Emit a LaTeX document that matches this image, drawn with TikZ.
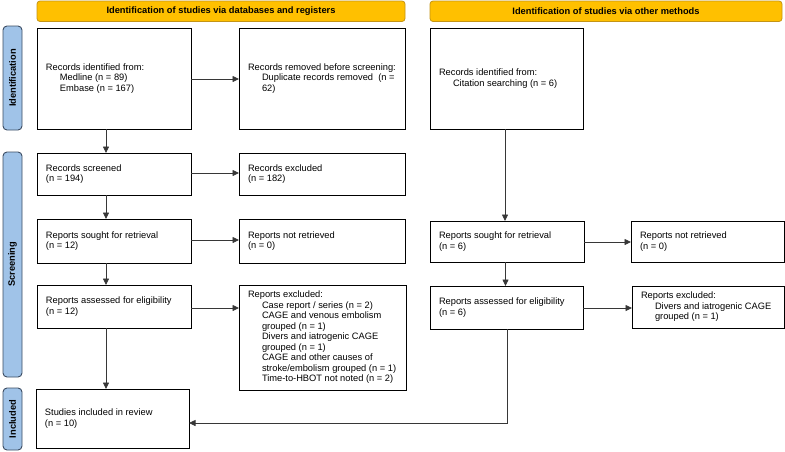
\documentclass[tikz,border=0pt]{standalone}
\usepackage{fontspec}
\setmainfont{Liberation Sans}
\usetikzlibrary{arrows.meta,calc}
\definecolor{hdrfill}{RGB}{255,192,0}
\definecolor{hdrdraw}{RGB}{196,148,20}
\definecolor{sidefill}{RGB}{160,195,232}
\definecolor{sidedraw}{RGB}{60,76,98}
\definecolor{linegray}{RGB}{55,55,55}
\newcommand\subind{\hspace*{14pt}}
\begin{document}
\begin{tikzpicture}[x=1pt,y=-1pt,
  txt/.style={font=\fontsize{9.3}{10.5}\selectfont},
  box/.style={txt,draw=black,line width=0.9pt,fill=white,rectangle,anchor=north west,
    inner xsep=0pt,inner ysep=2pt,align=flush left,outer sep=0pt,
    execute at begin node={\leftskip=8.5pt\relax\hyphenpenalty=10000\relax}},
  hdr/.style={draw=hdrdraw,fill=hdrfill,line width=0.8pt,rounded corners=3pt,
    font=\fontsize{9.3}{10.5}\selectfont\bfseries,anchor=north west,outer sep=0pt,inner sep=0pt},
  side/.style={draw=sidedraw,fill=sidefill,line width=0.9pt,rounded corners=4pt,rotate=90,
    font=\fontsize{9.3}{10.5}\selectfont\bfseries,outer sep=0pt,inner sep=0pt},
  arr/.style={draw=linegray,line width=0.8pt,-{Triangle[length=6.5pt,width=6pt]}},
  ln/.style={draw=linegray,line width=0.8pt}]
\useasboundingbox (0,0) rectangle (785,451);

% headers
\node[hdr,minimum width=368pt,minimum height=20.5pt] (h1) at (37,1) {Identification of studies via databases and registers};
\node[hdr,minimum width=352pt,minimum height=20.5pt] (h2) at (430,1) {Identification of studies via other methods};

% side bars
\node[side,minimum width=104pt,minimum height=19pt] (s1) at (12.5,78) {Identification};
\node[side,minimum width=225pt,minimum height=19pt] (s2) at (12.5,264.5) {Screening};
\node[side,minimum width=62pt,minimum height=19pt] (s3) at (12.5,419) {Included};

% boxes
\node[box,minimum width=154pt,minimum height=101pt,text width=153pt] (idl) at (37,28)
  {Records identified from:\\ \subind Medline (n = 89)\\ \subind Embase (n = 167)};
\node[box,minimum width=166pt,minimum height=101pt,text width=165pt] (rem) at (239,28)
  {Records removed before screening:\\ \subind Duplicate records removed\ \ (n =\\ \subind 62)};
\node[box,minimum width=153pt,minimum height=101pt,text width=152pt] (idr) at (430,28)
  {Records identified from:\\ \subind Citation searching (n = 6)};

\node[box,minimum width=154pt,minimum height=42pt,text width=153pt] (scr) at (37,153)
  {Records screened\\ (n = 194)};
\node[box,minimum width=166pt,minimum height=42pt,text width=165pt] (exc) at (239,153)
  {Records excluded\\ (n = 182)};

\node[box,minimum width=154pt,minimum height=44pt,text width=153pt] (sgl) at (37,219)
  {Reports sought for retrieval\\ (n = 12)};
\node[box,minimum width=166pt,minimum height=44pt,text width=165pt] (nrl) at (239,219)
  {Reports not retrieved\\ (n = 0)};

\node[box,minimum width=154pt,minimum height=43pt,text width=153pt] (asl) at (37,285)
  {Reports assessed for eligibility\\ (n = 12)};
\node[box,minimum width=167pt,minimum height=105pt,text width=166pt] (rxl) at (239,285)
  {Reports excluded:\\
   \subind Case report / series (n = 2)\\
   \subind CAGE and venous embolism\\
   \subind grouped (n = 1)\\
   \subind Divers and iatrogenic CAGE\\
   \subind grouped (n = 1)\\
   \subind CAGE and other causes of\\
   \subind stroke/embolism grouped (n = 1)\\
   \subind Time-to-HBOT not noted (n = 2)};

\node[box,minimum width=153pt,minimum height=59pt,text width=152pt] (inc) at (36,389)
  {Studies included in review\\ (n = 10)};

\node[box,minimum width=154pt,minimum height=41pt,text width=153pt] (sgr) at (430,221)
  {Reports sought for retrieval\\ (n = 6)};
\node[box,minimum width=153pt,minimum height=41pt,text width=152pt] (nrr) at (631,221)
  {Reports not retrieved\\ (n = 0)};

\node[box,minimum width=153pt,minimum height=43pt,text width=152pt] (asr) at (430,286)
  {Reports assessed for eligibility\\ (n = 6)};
\node[box,minimum width=152pt,minimum height=42pt,text width=151pt] (rxr) at (632,286)
  {Reports excluded:\\ \subind Divers and iatrogenic CAGE\\ \subind grouped (n = 1)};

% connectors, left column
\draw[arr] (idl.east |- 0,79) -- (rem.west |- 0,79);
\draw[arr] ([xshift=-8pt]idl.south) -- ([xshift=-8pt]idl.south |- scr.north);
\draw[arr] (scr.east |- 0,173) -- (exc.west |- 0,173);
\draw[arr] ([xshift=-8pt]scr.south) -- ([xshift=-8pt]scr.south |- sgl.north);
\draw[arr] (sgl.east |- 0,240) -- (nrl.west |- 0,240);
\draw[arr] ([xshift=-8pt]sgl.south) -- ([xshift=-8pt]sgl.south |- asl.north);
\draw[arr] (asl.east |- 0,308) -- (rxl.west |- 0,308);
\draw[arr] ([xshift=-8pt]asl.south) -- ([xshift=-8pt]asl.south |- inc.north);

% connectors, right column
\draw[arr] ([xshift=-1.5pt]idr.south) -- ([xshift=-1.5pt]idr.south |- sgr.north);
\draw[arr] (sgr.east |- 0,242) -- (nrr.west |- 0,242);
\draw[arr] ([xshift=-1.5pt]sgr.south) -- ([xshift=-1.5pt]sgr.south |- asr.north);
\draw[arr] (asr.east |- 0,308) -- (rxr.west |- 0,308);
\coordinate (turn) at (507,423);
\draw[arr] (asr.south -| turn) -- (turn) -- (turn -| inc.east);
\end{tikzpicture}
\end{document}
